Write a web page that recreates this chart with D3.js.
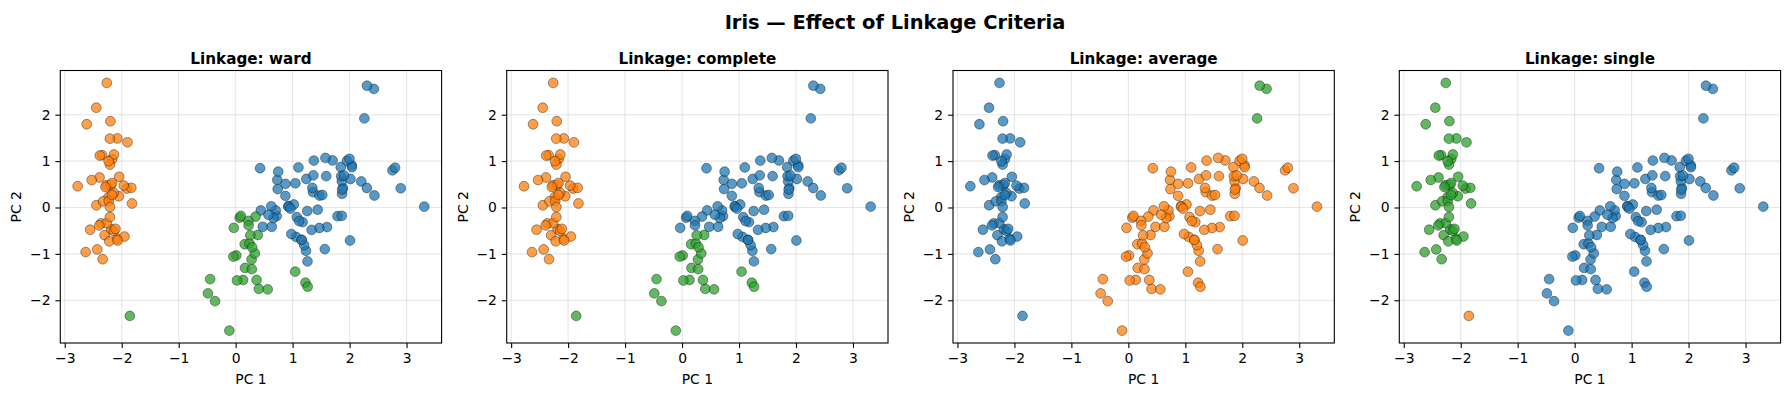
<!DOCTYPE html>
<html>
<head>
<meta charset="utf-8">
<script src="https://cdn.jsdelivr.net/npm/d3@7"></script>
<style>
  body { margin: 0; background: #fff; }
  text { font-family: "DejaVu Sans", sans-serif; fill: #000; }
</style>
</head>
<body>
<svg id="chart"></svg>
<script>
// PCA coordinates of the iris samples
var pc1 = [
  -2.265, -2.081, -2.364, -2.299, -2.390, -2.076, -2.444, -2.233, -2.335, -2.184,
  -2.166, -2.326, -2.218, -2.633, -2.199, -2.262, -2.208, -2.190, -1.899, -2.343,
  -1.914, -2.207, -2.774, -1.819, -2.227, -1.952, -2.051, -2.169, -2.140, -2.265,
  -2.140, -1.832, -2.615, -2.446, -2.110, -2.208, -2.045, -2.527, -2.430, -2.170,
  -2.286, -1.858, -2.554, -1.964, -2.137, -2.070, -2.385, -2.394, -2.229, -2.206,
  1.102, 0.731, 1.241, 0.407, 1.075, 0.389, 0.747, -0.487, 0.928, 0.011,
  -0.110, 0.441, 0.562, 0.720, -0.033, 0.875, 0.350, 0.159, 1.225, 0.165,
  0.738, 0.476, 1.234, 0.633, 0.703, 0.874, 1.257, 1.358, 0.665, -0.040,
  0.131, 0.023, 0.242, 1.061, 0.224, 0.429, 1.049, 1.045, 0.070, 0.283,
  0.279, 0.625, 0.336, -0.362, 0.289, 0.091, 0.228, 0.576, -0.448, 0.257,
  1.845, 1.158, 2.205, 1.440, 1.868, 2.752, 0.367, 2.302, 2.007, 2.260,
  1.364, 1.603, 1.884, 1.261, 1.468, 1.590, 1.471, 2.426, 3.311, 1.264,
  2.038, 0.978, 2.898, 1.333, 1.701, 1.954, 1.175, 1.021, 1.788, 1.864,
  2.436, 2.305, 1.863, 1.114, 1.203, 2.799, 1.576, 1.346, 0.925, 1.852,
  2.016, 1.902, 1.158, 2.041, 1.998, 1.871, 1.565, 1.521, 1.373, 0.961
];
var pc2 = [
  0.480, -0.674, -0.342, -0.597, 0.647, 1.489, 0.048, 0.223, -1.115, -0.469,
  1.044, 0.133, -0.729, -0.962, 1.860, 2.686, 1.484, 0.489, 1.405, 1.128,
  0.409, 0.924, 0.458, 0.086, 0.137, -0.626, 0.242, 0.527, 0.313, -0.338,
  -0.505, 0.424, 1.794, 2.151, -0.460, -0.206, 0.662, 0.592, -0.904, 0.269,
  0.442, -2.337, -0.479, 0.472, 1.142, -0.711, 1.120, -0.386, 0.998, 0.009,
  0.863, 0.595, 0.616, -1.754, -0.208, -0.593, 0.773, -1.852, 0.032, -1.034,
  -2.654, -0.063, -1.765, -0.186, -0.439, 0.509, -0.196, -0.792, -1.622, -1.303,
  0.397, -0.417, -0.933, -0.416, -0.063, 0.251, -0.077, 0.331, -0.226, -1.059,
  -1.562, -1.572, -0.777, -0.634, -0.288, 0.846, 0.522, -1.383, -0.220, -1.329,
  -1.120, 0.025, -0.988, -2.019, -0.856, -0.181, -0.385, -0.155, -1.544, -0.600,
  0.870, -0.699, 0.562, -0.047, 0.295, 0.800, -1.562, 0.420, -0.711, 1.921,
  0.693, -0.422, 0.419, -1.162, -0.442, 0.676, 0.256, 2.557, 0.018, -1.707,
  0.910, -0.572, 0.414, -0.482, 1.014, 1.008, -0.316, 0.064, -0.187, 0.562,
  0.259, 2.626, -0.179, -0.293, -0.811, 0.857, 1.069, 0.422, 0.017, 0.676,
  0.614, 0.690, -0.699, 0.868, 1.049, 0.387, -0.897, 0.269, 1.011, -0.024
];

// cluster label for each sample, one list per linkage
var wardLabels = [
  1,1,1,1,1,1,1,1,1,1, 1,1,1,1,1,1,1,1,1,1, 1,1,1,1,1,1,1,1,1,1,
  1,1,1,1,1,1,1,1,1,1, 1,2,1,1,1,1,1,1,1,1,
  0,0,0,2,0,2,0,2,0,2, 2,0,2,0,2,0,2,2,2,2, 0,0,0,0,0,0,0,0,0,2,
  2,2,2,0,2,0,0,2,2,2, 2,0,2,2,2,2,2,0,2,2,
  0,0,0,0,0,0,2,0,0,0, 0,0,0,0,0,0,0,0,0,2, 0,0,0,0,0,0,0,0,0,0,
  0,0,0,0,0,0,0,0,0,0, 0,0,0,0,0,0,0,0,0,0
];
var completeLabels = [
  1,1,1,1,1,1,1,1,1,1, 1,1,1,1,1,1,1,1,1,1, 1,1,1,1,1,1,1,1,1,1,
  1,1,1,1,1,1,1,1,1,1, 1,2,1,1,1,1,1,1,1,1,
  0,0,0,2,0,2,0,2,0,2, 2,0,2,0,0,0,0,2,2,2, 0,0,0,0,0,0,0,0,0,2,
  2,2,2,0,0,0,0,2,0,2, 2,0,2,2,2,0,0,0,2,2,
  0,0,0,0,0,0,2,0,0,0, 0,0,0,0,0,0,0,0,0,2, 0,0,0,0,0,0,0,0,0,0,
  0,0,0,0,0,0,0,0,0,0, 0,0,0,0,0,0,0,0,0,0
];
var averageLabels = [
  0,0,0,0,0,0,0,0,0,0, 0,0,0,0,0,0,0,0,0,0, 0,0,0,0,0,0,0,0,0,0,
  0,0,0,0,0,0,0,0,0,0, 0,0,0,0,0,0,0,0,0,0,
  1,1,1,1,1,1,1,1,1,1, 1,1,1,1,1,1,1,1,1,1, 1,1,1,1,1,1,1,1,1,1,
  1,1,1,1,1,1,1,1,1,1, 1,1,1,1,1,1,1,1,1,1,
  1,1,1,1,1,1,1,1,1,2, 1,1,1,1,1,1,1,2,1,1, 1,1,1,1,1,1,1,1,1,1,
  1,2,1,1,1,1,1,1,1,1, 1,1,1,1,1,1,1,1,1,1
];
var singleLabels = [
  2,2,2,2,2,2,2,2,2,2, 2,2,2,2,2,2,2,2,2,2, 2,2,2,2,2,2,2,2,2,2,
  2,2,2,2,2,2,2,2,2,2, 2,1,2,2,2,2,2,2,2,2,
  0,0,0,0,0,0,0,0,0,0, 0,0,0,0,0,0,0,0,0,0, 0,0,0,0,0,0,0,0,0,0,
  0,0,0,0,0,0,0,0,0,0, 0,0,0,0,0,0,0,0,0,0,
  0,0,0,0,0,0,0,0,0,0, 0,0,0,0,0,0,0,0,0,0, 0,0,0,0,0,0,0,0,0,0,
  0,0,0,0,0,0,0,0,0,0, 0,0,0,0,0,0,0,0,0,0
];

var linkages = ["ward", "complete", "average", "single"];
var labelSets = [wardLabels, completeLabels, averageLabels, singleLabels];
var xTicks = [-3, -2, -1, 0, 1, 2, 3];
var yTicks = [-2, -1, 0, 1, 2];
var palette = ["#1f77b4", "#ff7f0e", "#2ca02c"];

var width = 1790,
    height = 396;

var svg = d3.select("#chart")
    .attr("width", width)
    .attr("height", height);

var panelLefts = [60.3, 506.7, 953, 1399.3],
    panelW = 381.3,
    plotTop = 70.5,
    plotBottom = 343;

function padded(ext) {
    var m = (ext[1] - ext[0]) * 0.05;
    return [ext[0] - m, ext[1] + m];
}

var x = d3.scaleLinear().domain(padded(d3.extent(pc1))).range([0, panelW]);
var y = d3.scaleLinear().domain(padded(d3.extent(pc2))).range([plotBottom - plotTop, 0]);
var minus = function (d) { return String(d).replace("-", "\u2212"); };

svg.append("text")
    .attr("x", width / 2)
    .attr("y", 28.7)
    .attr("text-anchor", "middle")
    .style("font-size", "19.4px")
    .style("font-weight", "bold")
    .text("Iris \u2014 Effect of Linkage Criteria");

var points = pc1.map(function (v, i) { return { x: v, y: pc2[i], i: i }; });

linkages.forEach(function (name, k) {
    var labels = labelSets[k];
    var h = plotBottom - plotTop;
    var g = svg.append("g")
        .attr("transform", "translate(" + panelLefts[k] + "," + plotTop + ")");

    // grid
    g.append("g").selectAll("line")
        .data(xTicks).enter().append("line")
        .attr("x1", x).attr("x2", x)
        .attr("y1", 0).attr("y2", h)
        .attr("stroke", "#b0b0b0").attr("stroke-opacity", 0.3).attr("stroke-width", 1.1);
    g.append("g").selectAll("line")
        .data(yTicks).enter().append("line")
        .attr("y1", y).attr("y2", y)
        .attr("x1", 0).attr("x2", panelW)
        .attr("stroke", "#b0b0b0").attr("stroke-opacity", 0.3).attr("stroke-width", 1.1);

    g.append("g").selectAll("circle")
        .data(points).enter().append("circle")
        .attr("cx", function (d) { return x(d.x); })
        .attr("cy", function (d) { return y(d.y); })
        .attr("r", 4.9)
        .attr("fill", function (d) { return palette[labels[d.i]]; })
        .attr("fill-opacity", 0.75)
        .attr("stroke", "#000")
        .attr("stroke-opacity", 0.75)
        .attr("stroke-width", 0.5);

    var xAxis = g.append("g")
        .attr("transform", "translate(0," + h + ")")
        .call(d3.axisBottom(x).tickValues(xTicks).tickFormat(minus).tickSizeOuter(0).tickSize(4.9).tickPadding(4.9));
    var yAxis = g.append("g")
        .call(d3.axisLeft(y).tickValues(yTicks).tickFormat(minus).tickSizeOuter(0).tickSize(4.9).tickPadding(4.9));
    [xAxis, yAxis].forEach(function (a) {
        a.select(".domain").remove();
        a.selectAll("line").attr("stroke", "#000").attr("stroke-width", 1.1);
        a.selectAll("text")
            .style("font-family", "DejaVu Sans, sans-serif")
            .style("font-size", "13.9px")
            .attr("fill", "#000");
    });

    g.append("rect")
        .attr("width", panelW).attr("height", h)
        .attr("fill", "none").attr("stroke", "#000").attr("stroke-width", 1.1);

    g.append("text")
        .attr("x", panelW / 2).attr("y", -7)
        .attr("text-anchor", "middle")
        .style("font-size", "15.2px").style("font-weight", "bold")
        .text("Linkage: " + name);

    g.append("text")
        .attr("x", panelW / 2).attr("y", h + 40.5)
        .attr("text-anchor", "middle")
        .style("font-size", "13.9px")
        .text("PC 1");

    g.append("text")
        .attr("transform", "translate(-39," + h / 2 + ") rotate(-90)")
        .attr("text-anchor", "middle")
        .style("font-size", "13.9px")
        .text("PC 2");
});
</script>
</body>
</html>
